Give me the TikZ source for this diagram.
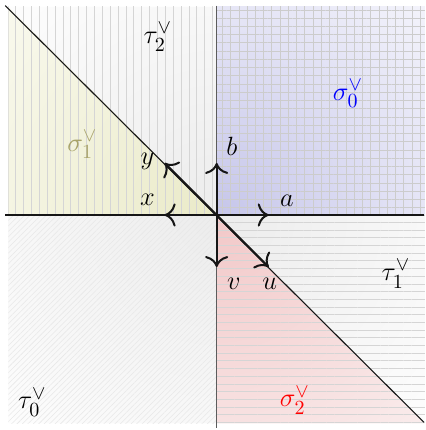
\documentclass[tikz,border=0pt]{standalone}
\usepackage{amsmath,amssymb}
\usetikzlibrary{arrows.meta,patterns.meta}
\definecolor{ink}{HTML}{161616}
\definecolor{leaf}{HTML}{A8A36A}
\definecolor{bluein}{RGB}{198,198,234}
\definecolor{blueout}{RGB}{246,246,252}
\definecolor{leafin}{RGB}{234,234,200}
\definecolor{leafout}{RGB}{250,250,240}
\definecolor{redin}{RGB}{242,200,200}
\definecolor{redout}{RGB}{250,238,238}
\definecolor{grayin}{RGB}{236,236,236}
\definecolor{grayout}{RGB}{254,254,254}
\tikzset{axisline/.style={draw=ink,line width=.6pt},wallline/.style={draw=ink,line width=.6pt},vec/.style={draw=ink,line width=1.1pt,-{To[scale=1.5]}},veclabel/.style={font=\fontsize{15}{18}\selectfont,inner sep=1pt},conelabel/.style={font=\fontsize{15}{18}\selectfont,inner sep=1pt},gridfill/.style={pattern={Hatch[angle=0,distance=4.5pt,line width=.4pt]},pattern color=ink!22},vfill/.style={pattern={Lines[angle=90,distance=4.3pt,line width=.4pt]},pattern color=ink!18},hfill/.style={pattern={Lines[angle=0,distance=4.2pt,line width=.4pt]},pattern color=ink!18},dfill/.style={pattern={Lines[angle=45,distance=2.1pt,line width=.3pt]},pattern color=ink!10}}

\begin{document}
\begin{tikzpicture}
\useasboundingbox (-4.16,-4.128) rectangle (4.0,4.128);
% shaded regions
\begin{scope}
\clip (0,0) rectangle (4,4);
\shade[inner color=bluein,outer color=blueout] (0,0) circle (6);
\end{scope}
\begin{scope}
\clip (0,0)--(-4,0)--(-4,4)--cycle;
\shade[inner color=leafin,outer color=leafout] (0,0) circle (6);
\end{scope}
\begin{scope}
\clip (0,0)--(0,-4)--(4,-4)--cycle;
\shade[inner color=redin,outer color=redout] (0,0) circle (6);
\end{scope}
\begin{scope}
\clip (0,0)--(-4,4)--(0,4)--cycle (-4,-4) rectangle (0,0) (0,0)--(4,-4)--(4,0)--cycle;
\shade[inner color=grayin,outer color=grayout] (0,0) circle (6);
\end{scope}
% patterns
\fill[gridfill] (0,0) rectangle (4,4);
\fill[vfill] (-4,0) rectangle (0,4);
\fill[dfill] (-4,-4) rectangle (0,0);
\fill[hfill] (0,-4) rectangle (4,0);
% walls
\coordinate (O) at (0,0);
\coordinate (west) at (-4.06,0);
\coordinate (east) at (3.98,0);
\coordinate (north) at (0,4.02);
\coordinate (south) at (0,-4.08);
\coordinate (nw) at (-4.06,4.02);
\coordinate (se) at (3.98,-3.98);
\draw[axisline] (west)--(east);
\draw[axisline,draw=ink!70] (north)--(south);
\draw[wallline] (nw)--(se);
% generators
\coordinate (a) at (1,0);
\coordinate (b) at (0,1);
\coordinate (x) at (-1,0);
\coordinate (y) at (-1,1);
\coordinate (u) at (1,-1);
\coordinate (v) at (0,-1);
\foreach \p in {a,b,x,y,u,v} \draw[vec] (O)--(\p);
\node[veclabel] (la) at (1.35,.27) {$a$};
\node[veclabel] (lb) at (.29,1.32) {$b$};
\node[veclabel] (lx) at (-1.33,.29) {$x$};
\node[veclabel] (ly) at (-1.33,1.02) {$y$};
\node[veclabel] (lu) at (1.02,-1.32) {$u$};
\node[veclabel] (lv) at (.33,-1.32) {$v$};
% cones
\node[conelabel] (s0) at (2.52,2.33) {$\textcolor{blue}{\sigma_0^\vee}$};
\node[conelabel,text=leaf] (s1) at (-2.58,1.35) {$\sigma_1^\vee$};
\node[conelabel,text=red] (s2) at (1.5,-3.56) {$\sigma_2^\vee$};
\node[conelabel] (t0) at (-3.54,-3.6) {$\tau_0^\vee$};
\node[conelabel] (t1) at (3.44,-1.13) {$\tau_1^\vee$};
\node[conelabel] (t2) at (-1.13,3.42) {$\tau_2^\vee$};
\end{tikzpicture}
\end{document}
